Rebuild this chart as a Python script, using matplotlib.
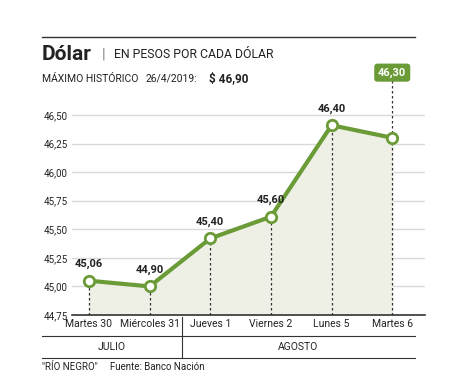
import matplotlib.pyplot as plt
import numpy as np

dias = ['Martes 30', 'Miércoles 31', 'Jueves 1', 'Viernes 2', 'Lunes 5', 'Martes 6']
valores = [45.05, 45.00, 45.42, 45.61, 46.41, 46.30]
etiquetas = ['45,06', '44,90', '45,40', '45,60', '46,40', '46,30']
yticks = [44.75, 45.00, 45.25, 45.50, 45.75, 46.00, 46.25, 46.50]
meses = ['JULIO', 'AGOSTO']

verde = '#6b9b37'
gris = '#222222'
plt.rcParams['font.family'] = ['Roboto', 'DejaVu Sans']

fig = plt.figure(figsize=(4.56, 3.9), dpi=100)
ax = fig.add_axes([72/456, 1-315/390, 353/456, 251.5/390])

x = np.arange(len(dias))
ymin = 44.75
ax.fill_between(x, valores, ymin, color='#eef0e6', zorder=1)
ax.plot(x, valores, color=verde, lw=3, zorder=3,
        marker='o', ms=7.5, mfc='white', mec=verde, mew=2)
ax.vlines(x, ymin, valores, colors='#333333', linestyles=(0, (2, 2)), lw=0.9, zorder=2)
ax.vlines(x[-1], valores[-1], 46.84, colors='#333333', linestyles=(0, (2, 2)), lw=0.9, zorder=2)

for i in range(len(dias) - 1):
    ax.text(x[i], valores[i] + 0.1, etiquetas[i], ha='center', va='bottom',
            fontsize=8, fontweight='bold', color=gris, zorder=4)
ax.text(x[-1], 46.87, etiquetas[-1], ha='center', va='center', fontsize=8,
        fontweight='bold', color='white', zorder=5,
        bbox=dict(boxstyle='round,pad=0.35,rounding_size=0.3', fc=verde, ec='none'))

ax.set_xlim(-0.28, 5.54)
ax.set_ylim(ymin, 46.95)
ax.set_yticks(yticks)
ax.set_yticklabels([f'{v:.2f}'.replace('.', ',') for v in yticks], fontsize=7, color=gris)
ax.yaxis.grid(True, color='#d8d8d8', lw=1)
ax.set_axisbelow(True)
ax.tick_params(axis='y', length=0, pad=3)
ax.set_xticks(x)
ax.set_xticklabels(dias, fontsize=7.5, color=gris)
ax.tick_params(axis='x', length=0, pad=3)
for s in ['top', 'right', 'left']:
    ax.spines[s].set_visible(False)
ax.spines['bottom'].set_color('#333333')
ax.spines['bottom'].set_linewidth(1.2)

# cabecera
fig.add_artist(plt.Line2D([42/456, 415/456], [1-37/390]*2, color='#333333', lw=1))
fig.text(42/456, 1-55/390, 'Dólar', fontsize=15, fontweight='bold', color=gris, va='center')
fig.text(102/456, 1-55/390, '|', fontsize=11, color='#888888', va='center')
fig.text(114/456, 1-55/390, 'EN PESOS POR CADA DÓLAR', fontsize=8.8, color=gris, va='center')
fig.text(42/456, 1-79/390, 'MÁXIMO HISTÓRICO', fontsize=7.5, color=gris, va='center')
fig.text(146/456, 1-79/390, '26/4/2019:', fontsize=7.5, color=gris, va='center')
fig.text(209/456, 1-79/390, '$ 46,90', fontsize=8.5, fontweight='bold', color=gris, va='center')

# pie con meses
fig.add_artist(plt.Line2D([42/456, 415/456], [1-336/390]*2, color='#333333', lw=0.8))
fig.add_artist(plt.Line2D([42/456, 415/456], [1-358/390]*2, color='#333333', lw=0.8))
fig.add_artist(plt.Line2D([182/456, 182/456], [1-317/390, 1-358/390], color='#333333', lw=0.8))
fig.text(112/456, 1-347/390, meses[0], fontsize=7.5, color=gris, ha='center', va='center')
fig.text(298/456, 1-347/390, meses[1], fontsize=7.5, color=gris, ha='center', va='center')
fig.text(42/456, 1-367/390, '"RÍO NEGRO"', fontsize=7, color=gris, va='center')
fig.text(110/456, 1-367/390, 'Fuente: Banco Nación', fontsize=7, color=gris, va='center')

fig.savefig('out.png', dpi=100, facecolor='white')
